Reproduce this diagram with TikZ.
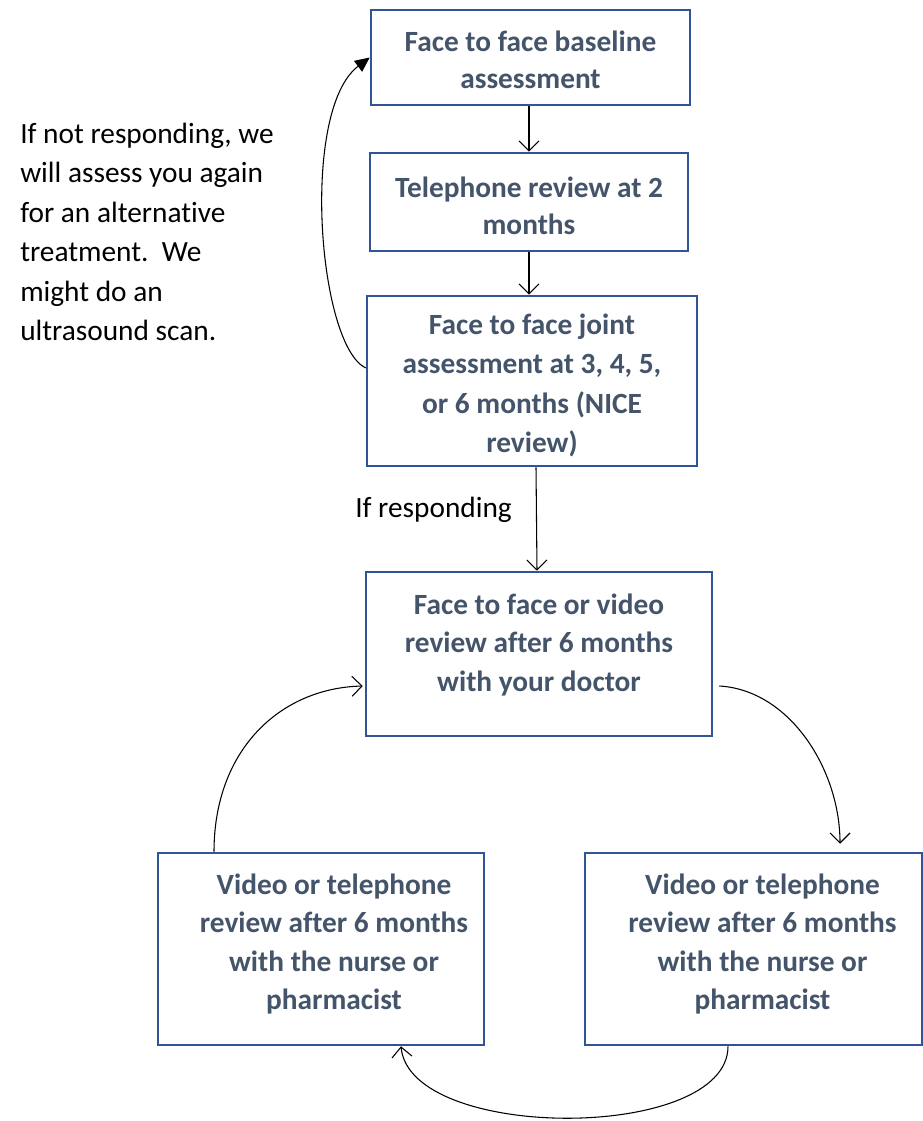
\documentclass[tikz,border=0pt]{standalone}
\usepackage{fontspec}
\setmainfont{Carlito}[Ligatures={NoCommon,NoContextual,NoRequired},RawFeature={-liga;-clig;-dlig;-calt}]
\usetikzlibrary{arrows.meta,calc}
\definecolor{boxblue}{HTML}{2F5597}
\definecolor{txtgray}{HTML}{44546A}
\tikzset{
  stepbox/.style={draw=boxblue, line width=1.9pt, fill=white, inner sep=0pt},
  boxtext/.style={align=center, inner sep=0pt, text=txtgray,
    font=\fontsize{22pt}{28.8pt}\selectfont\bfseries},
  conn/.style={draw=black, line width=0.8pt, -{Straight Barb[length=7.5pt,width=15pt]}},
  connfill/.style={draw=black, line width=0.8pt, -{Triangle[length=11pt,width=10pt]}},
  plain/.style={inner sep=0pt, align=left, text=black,
    font=\fontsize{22pt}{29.6pt}\selectfont}
}
\begin{document}
\begin{tikzpicture}[x=0.75pt,y=-0.75pt]
\useasboundingbox (0,0) rectangle (923,1121);
\node[stepbox, minimum width=319*0.75pt, minimum height=95*0.75pt] (b1) at (530.5,57.5) {};
\node[boxtext, font=\fontsize{22pt}{27.4pt}\selectfont\bfseries] (t1) at ($(b1.center)+(0,2.5)$)
  {Face to face baseline\\assessment};
\node[stepbox, minimum width=318*0.75pt, minimum height=98*0.75pt] (b2) at (529,202) {};
\node[boxtext, font=\fontsize{22pt}{28pt}\selectfont\bfseries] (t2) at ($(b2.center)+(0,3.5)$)
  {Telephone review at 2\\months};
\node[stepbox, minimum width=330*0.75pt, minimum height=170*0.75pt] (b3) at (532,381) {};
\node[boxtext, font=\fontsize{22pt}{29.6pt}\selectfont\bfseries] (t3) at ($(b3.center)+(0,4.5)$)
  {Face to face joint\\assessment at 3, 4, 5,\\or 6 months (NICE\\review)};
\node[stepbox, minimum width=346*0.75pt, minimum height=164*0.75pt] (b4) at (539,654) {};
\node[boxtext] (t4) at ($(b4.center)+(0,-9)$)
  {Face to face or video\\review after 6 months\\with your doctor};
\node[stepbox, minimum width=326*0.75pt, minimum height=192*0.75pt] (b5) at (321,949) {};
\node[boxtext] (t5) at ($(b5.center)+(13,-5)$)
  {Video or telephone\\review after 6 months\\with the nurse or\\pharmacist};
\node[stepbox, minimum width=337*0.75pt, minimum height=192*0.75pt] (b6) at (753.5,949) {};
\node[boxtext] (t6) at ($(b6.center)+(9,-5)$)
  {Video or telephone\\review after 6 months\\with the nurse or\\pharmacist};
\node[plain, anchor=west] (lt) at (20,232)
  {If not responding, we\\will assess you again\\for an alternative\\treatment.\ \ We\\might do an\\ultrasound scan.};
\node[plain, anchor=west] (lr) at (355,510) {If responding};
% straight connectors
\draw[conn] (b2.north |- b1.south) -- (b2.north);
\draw[conn] (b2.south) -- (b2.south |- b3.north);
\draw[conn] ($(b3.south)+(4,0)$) -- ($(b4.north)+(-2,0)$);
% curved connectors
\draw[connfill] ($(b3.west)+(0,-13)$) .. controls (318,345) and (300,110) .. (b1.west);
\draw[conn] ($(b4.east)+(6,32)$) .. controls (790,690) and (840,770) .. ($(b6.north)+(86.5,-8)$);
\draw[conn] ($(b6.south)+(-25.5,0)$) .. controls (728,1142) and (410,1142) .. ($(b5.south)+(80,0)$);
\draw[conn] ($(b5.north)+(-107,0)$) .. controls (214,750) and (280,688) .. ($(b4.west)+(-2,32)$);
\end{tikzpicture}
\end{document}
